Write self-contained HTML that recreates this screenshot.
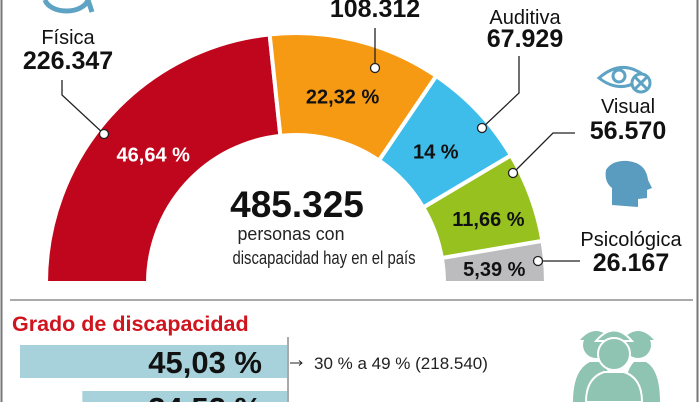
<!DOCTYPE html>
<html><head><meta charset="utf-8"><style>
html,body{margin:0;background:#fff;width:700px;height:402px;overflow:hidden;}
svg{display:block;font-family:"Liberation Sans",sans-serif;overflow:hidden;}
</style></head><body>
<svg id="c" width="700" height="402" viewBox="0 0 700 402">
<rect x="0" y="0" width="700" height="402" fill="#fff"/>
<line x1="1.5" y1="0" x2="1.5" y2="402" stroke="#777" stroke-width="2"/>
<line x1="697.5" y1="0" x2="697.5" y2="402" stroke="#777" stroke-width="2"/>
<g id="arcs"></g>
<g id="labels"></g>
<g fill="none" stroke="#5ea3c4" stroke-width="5">
<path d="M45 0 A22 14 0 0 0 88 0"/><line x1="88" y1="0" x2="92" y2="12"/>
</g>
<g fill="none" stroke="#5ea3c4" stroke-width="3">
<path d="M599 78 Q622 58 645 76 Q622 96 599 78 Z"/><circle cx="619" cy="76" r="6"/>
<circle cx="641" cy="83" r="9" fill="#fff"/><line x1="635" y1="77" x2="647" y2="89"/><line x1="647" y1="77" x2="635" y2="89"/>
</g>
<g fill="#5a9cc0">
<path d="M612 205 L612 188 Q604 182 606 170 Q612 160 628 161 Q646 163 648 180 L652 188 L647 190 L647 198 L638 199 L638 207 Z"/>
</g>
<g fill="#8fc4b2">
<circle cx="596" cy="345" r="13"/><circle cx="638" cy="345" r="13"/>
<path d="M580 340 Q596 322 612 340 Z"/><path d="M622 340 Q638 322 654 340 Z"/>
<path d="M573 402 Q573 370 590 362 L602 362 Q612 372 612 402 Z"/><path d="M624 402 Q624 372 634 362 L646 362 Q660 370 660 402 Z"/>
<path d="M596 341 Q614 320 632 341 Z" stroke="#fff" stroke-width="2"/>
<circle cx="614" cy="354" r="16" stroke="#fff" stroke-width="2"/>
<path d="M586 402 Q586 378 604 372 L624 372 Q642 378 642 402 Z" stroke="#fff" stroke-width="2"/>
</g>
<text x="297" y="217" text-anchor="middle" font-size="37" font-weight="bold" fill="#111">485.325</text>
<text x="291" y="240" text-anchor="middle" font-size="18" fill="#222" textLength="107" lengthAdjust="spacingAndGlyphs">personas con</text>
<text x="324" y="264" text-anchor="middle" font-size="18" fill="#222" textLength="183" lengthAdjust="spacingAndGlyphs">discapacidad hay en el país</text>
<line x1="10" y1="300" x2="693" y2="300" stroke="#aaa" stroke-width="2"/>
<text x="12" y="331" font-size="21.5" font-weight="bold" fill="#d0141e">Grado de discapacidad</text>
<line x1="288" y1="337" x2="288" y2="402" stroke="#555" stroke-width="1"/>
<g id="bars"></g>
</svg>
<script>
const categories=["Física","Intelectual","Auditiva","Visual","Psicológica"];
const counts=["226.347","108.312","67.929","56.570","26.167"];
const percents=[46.64,22.32,14,11.66,5.39];
const pctLabels=["46,64 %","22,32 %","14 %","11,66 %","5,39 %"];
const gradePercents=[45.03,34.52];
const gradeLabels=["45,03 %","34,52 %"];
const gradeNotes=["30 % a 49 % (218.540)",""];
const NS="http://www.w3.org/2000/svg";
const colors=["#c0061c","#f79a13","#3ebdea","#96c11f","#bcbcbe"];
const txtColors=["#fff","#111","#111","#111","#111"];
const labR=[192,192,192,205,200];
const labDx=[0,0,0,0,-1];
const labDy=[7,7,7,14,10];
const cx=296,cy=283,R=250,r0=148;
function ang(p){return Math.PI-p/100*Math.PI;}
function pt(a,rad){return [cx+rad*Math.cos(a),cy-rad*Math.sin(a)];}
const total=percents.reduce((a,b)=>a+b,0);
let acc=0;const arcs=document.getElementById('arcs'),labs=document.getElementById('labels');
percents.forEach((v,i)=>{
  const a0=ang(acc/total*100),a1=ang((acc+v)/total*100);acc+=v;
  const p1=pt(a0,R),p2=pt(a1,R),p3=pt(a1,r0),p4=pt(a0,r0);
  const path=document.createElementNS(NS,'path');
  path.setAttribute('d',`M${p1}A${R},${R} 0 0 1 ${p2}L${p3}A${r0},${r0} 0 0 0 ${p4}Z`);
  path.setAttribute('fill',colors[i]);path.setAttribute('stroke','#fff');path.setAttribute('stroke-width','4');
  
  
  arcs.appendChild(path);
  const am=(a0+a1)/2,lp=pt(am,labR[i]);
  const t=document.createElementNS(NS,'text');
  t.setAttribute('x',lp[0]+labDx[i]);t.setAttribute('y',lp[1]+labDy[i]);t.setAttribute('text-anchor','middle');
  t.setAttribute('font-size','20');t.setAttribute('font-weight','bold');t.setAttribute('fill',txtColors[i]);
  t.textContent=pctLabels[i];
  
  
  labs.appendChild(t);
});
const labelDefs=[
 {x:68,y1:44,y2:69,name:true,leader:"M62 80 L62 95 L104 134"},
 {x:375,y1:-6,y2:17,name:false,leader:"M375 28 L375 68"},
 {x:525,y1:24,y2:47,name:true,leader:"M519 56 L519 93 L482 128"},
 {x:628,y1:113,y2:139,name:true,leader:"M575 133 L553 133 L513 173"},
 {x:631,y1:246,y2:271,name:true,leader:"M580 261 L538 261"}];
const ends=[[104,134],[375,68],[482,128],[513,173],[538,261]];
labelDefs.forEach((d,i)=>{
  if(d.name){const t=document.createElementNS(NS,'text');t.setAttribute('x',d.x);t.setAttribute('y',d.y1);
   t.setAttribute('text-anchor','middle');t.setAttribute('font-size','20');t.setAttribute('fill','#111');t.textContent=categories[i];
   
   labs.appendChild(t);}
  const v=document.createElementNS(NS,'text');v.setAttribute('x',d.x);v.setAttribute('y',d.y2);
  v.setAttribute('text-anchor','middle');v.setAttribute('font-size','25');v.setAttribute('font-weight','bold');v.setAttribute('fill','#111');v.textContent=counts[i];
  
  labs.appendChild(v);
  const l=document.createElementNS(NS,'path');l.setAttribute('d',d.leader);l.setAttribute('fill','none');l.setAttribute('stroke','#222');l.setAttribute('stroke-width','1.3');
  
  labs.appendChild(l);
  const c=document.createElementNS(NS,'circle');c.setAttribute('cx',ends[i][0]);c.setAttribute('cy',ends[i][1]);c.setAttribute('r','4.5');
  c.setAttribute('fill','#fff');c.setAttribute('stroke','#222');c.setAttribute('stroke-width','1.3');
  
  labs.appendChild(c);
});
const bars=document.getElementById('bars');const x0=287,scale=267/45.03;
gradePercents.forEach((v,i)=>{
  const y=345+i*46,w=v*scale,h=Math.min(33,402-y);
  const r=document.createElementNS(NS,'rect');r.setAttribute('x',x0-w);r.setAttribute('y',y);r.setAttribute('width',w);r.setAttribute('height',h);r.setAttribute('fill','#a7d2dc');
  
  bars.appendChild(r);
  const t=document.createElementNS(NS,'text');t.setAttribute('x',262);t.setAttribute('y',y+28);t.setAttribute('text-anchor','end');
  t.setAttribute('font-size','31');t.setAttribute('font-weight','bold');t.setAttribute('fill','#111');t.textContent=gradeLabels[i];
  
  bars.appendChild(t);
  if(gradeNotes[i]){const n=document.createElementNS(NS,'text');n.setAttribute('x',314);n.setAttribute('y',y+24);n.setAttribute('font-size','17');n.setAttribute('fill','#222');
   n.textContent=gradeNotes[i];
   
   bars.appendChild(n);
   const a=document.createElementNS(NS,'path');a.setAttribute('d',`M290 ${y+18} L302 ${y+18} M299 ${y+15.5} L302 ${y+18} L299 ${y+20.5}`);a.setAttribute('stroke','#222');a.setAttribute('fill','none');
   
   bars.appendChild(a);}
});
</script>
</body></html>
